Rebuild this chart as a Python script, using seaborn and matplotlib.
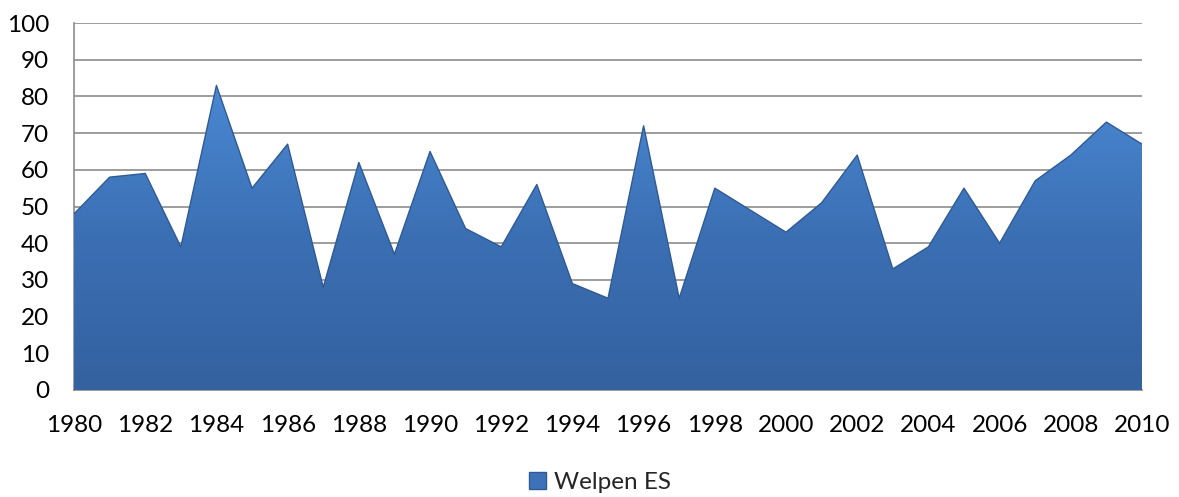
import numpy as np
import pandas as pd
import matplotlib
matplotlib.use("Agg")
import matplotlib.pyplot as plt
import seaborn as sns
from matplotlib.patches import Patch
from matplotlib.colors import LinearSegmentedColormap

years = list(range(1980, 2011))
welpen_es = [48, 58, 59, 39, 83, 55, 67, 28, 62, 37, 65, 44, 39, 56, 29, 25,
             72, 25, 55, 49, 43, 51, 64, 33, 39, 55, 40, 57, 64, 73, 67]
series_name = "Welpen ES"
y_ticks = list(range(0, 101, 10))
x_ticks = list(range(1980, 2011, 2))

df = pd.DataFrame({"year": years, series_name: welpen_es})

sns.set_theme(style="white")
plt.rcParams['font.family'] = ['Lato', 'DejaVu Sans']

fig = plt.figure(figsize=(11.79, 4.97), dpi=100)
ax = fig.add_axes([0.0628, 0.2153, 0.9058, 0.7384])

# grid
for t in y_ticks[1:]:
    ax.axhline(t, color="#8c8c8c", lw=1.2, zorder=0)

fill = ax.fill_between(df["year"], df[series_name], 0, color="#3d72b9", lw=0, zorder=2)
cmap = LinearSegmentedColormap.from_list("g", ["#3461a0", "#3b6fb3", "#4a88d2"])
grad = np.linspace(0, 1, 256).reshape(-1, 1)
img = ax.imshow(grad, cmap=cmap, aspect="auto", origin="lower",
                extent=[1980, 2010, 0, max(welpen_es)], zorder=3)
img.set_clip_path(fill.get_paths()[0], transform=ax.transData)
fill.set_alpha(0)
sns.lineplot(data=df, x="year", y=series_name, ax=ax, color="#2f5a93", lw=1.0, zorder=4)

ax.set_xlim(1980, 2010)
ax.set_ylim(0, 100)
ax.set_xticks(x_ticks)
ax.set_yticks(y_ticks)
ax.tick_params(axis="y", labelsize=17.5, length=0, colors="black", pad=18)
ax.tick_params(axis="x", labelsize=17.5, length=0, colors="black", pad=18)
ax.set_xlabel("")
ax.set_ylabel("")
for s in ["top", "right"]:
    ax.spines[s].set_visible(False)
for s in ["left", "bottom"]:
    ax.spines[s].set_color("#8c8c8c")
    ax.spines[s].set_linewidth(1.2)

handle = Patch(facecolor="#3d72b9", edgecolor="#2f5a93")
fig.legend([handle], [series_name], loc="center", bbox_to_anchor=(0.509, 0.03),
           frameon=False, fontsize=17.5, handlelength=0.7, handleheight=0.7,
           handletextpad=0.3)

fig.savefig("out.png", dpi=100)
